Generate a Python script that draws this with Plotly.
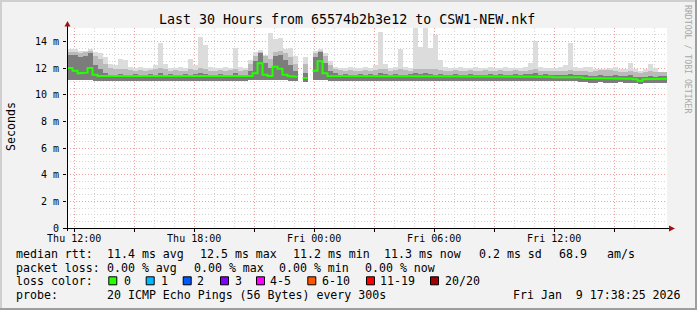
import pandas as pd
import plotly.graph_objects as go

# ---------------- data ----------------
title_text = "Last 30 Hours from 65574b2b3e12 to CSW1-NEW.nkf"
y_title = "Seconds"
range_start = "2026-01-08 11:38:25"
range_end = "2026-01-09 17:38:25"
bin_start = "2026-01-08 11:40:00"
bin_minutes = 15

x_tick_times = ["2026-01-08 12:00", "2026-01-08 15:00", "2026-01-08 18:00", "2026-01-08 21:00",
                "2026-01-09 00:00", "2026-01-09 03:00", "2026-01-09 06:00", "2026-01-09 09:00",
                "2026-01-09 12:00", "2026-01-09 15:00"]
x_tick_text = ["Thu 12:00", "", "Thu 18:00", "", "Fri 00:00", "", "Fri 06:00", "", "Fri 12:00", ""]
y_tick_vals = [0, 2, 4, 6, 8, 10, 12, 14]
y_tick_text = ["0", "2 m", "4 m", "6 m", "8 m", "10 m", "12 m", "14 m"]

# RTT in ms, one value per 15-minute bin (None = no data)
rtt_min = [11.1, 11.1, 11.1, 11.1, 11.1, 11.05, 11.05, 11.05, 11.0, 11.05,
           11.05, 11.0, 11.05, 11.05, 11.0, 11.05, 11.05, 11.0, 11.05, 11.05,
           11.0, 11.05, 11.05, 11.0, 11.05, 11.05, 11.0, 11.05, 11.05, 11.0,
           11.05, 11.05, 11.0, 11.05, 11.05, 11.05, 11.1, 11.1, 11.1, 11.1,
           11.1, 11.1, 11.1, 11.1, 11.05, 11.05, None, 10.95, None, 11.1,
           11.1, 11.1, 11.05, 11.05, 11.0, 11.05, 11.05, 11.0, 11.05, 11.05,
           11.0, 11.05, 11.05, 11.0, 11.05, 11.05, 11.0, 11.05, 11.05, 11.0,
           11.05, 11.05, 11.0, 11.05, 11.05, 11.0, 11.05, 11.05, 11.0, 11.05,
           11.05, 11.0, 11.05, 11.05, 11.0, 11.05, 11.05, 11.0, 11.05, 11.05,
           11.0, 11.05, 11.05, 11.0, 11.05, 11.0, 11.0, 11.0, 11.0, 11.0,
           11.0, 11.0, 10.95, 10.95, 10.9, 10.9, 10.95, 10.9, 10.9, 10.9,
           10.95, 10.9, 10.9, 10.85, 10.8, 10.85, 10.9, 10.85, 10.9, 10.9]

rtt_dark_top = [13.0, 13.0, 12.8, 12.9, 13.1, 12.2, 11.9, 11.6, 11.5, 11.5,
                11.55, 11.5, 11.5, 11.55, 11.5, 11.5, 11.55, 11.5, 11.6, 11.5,
                11.55, 11.5, 11.5, 11.55, 11.5, 11.55, 11.6, 11.55, 11.5, 11.5,
                11.55, 11.5, 11.5, 11.6, 11.5, 11.5, 11.8, 12.5, 13.1, 12.4,
                12.0, 12.9, 13.0, 12.6, 12.2, 11.8, None, 11.6, None, 12.8,
                13.2, 12.4, 11.8, 11.6, 11.5, 11.55, 11.5, 11.5, 11.55, 11.5,
                11.55, 11.5, 11.6, 11.55, 11.5, 11.55, 11.5, 11.5, 11.55, 11.6,
                11.55, 11.6, 11.55, 11.5, 11.55, 11.5, 11.5, 11.55, 11.5, 11.5,
                11.55, 11.5, 11.5, 11.5, 11.55, 11.5, 11.55, 11.5, 11.5, 11.55,
                11.5, 11.55, 11.55, 11.6, 11.5, 11.55, 11.5, 11.5, 11.5, 11.5,
                11.55, 11.5, 11.45, 11.45, 11.4, 11.4, 11.45, 11.4, 11.4, 11.45,
                11.4, 11.4, 11.45, 11.35, 11.3, 11.35, 11.4, 11.35, 11.4, 11.4]

rtt_mid_top = [13.2, 13.2, 13.1, 13.2, 13.3, 12.9, 12.7, 12.3, 12.0, 11.9,
               11.9, 11.9, 11.85, 11.8, 11.85, 11.8, 11.85, 11.9, 12.0, 11.9,
               11.8, 11.85, 11.8, 11.8, 11.9, 11.85, 12.0, 11.9, 11.8, 11.8,
               11.85, 11.8, 11.85, 11.9, 11.8, 11.85, 12.3, 12.9, 13.2, 12.9,
               12.7, 13.2, 13.3, 13.1, 12.8, 12.3, None, 12.3, None, 13.1,
               13.3, 12.9, 12.2, 11.9, 11.85, 11.8, 11.85, 11.8, 11.8, 11.85,
               11.8, 11.85, 11.95, 11.9, 11.8, 11.85, 11.9, 11.85, 11.8, 11.95,
               11.9, 11.95, 11.9, 11.9, 11.85, 11.8, 11.8, 11.85, 11.8, 11.8,
               11.85, 11.8, 11.8, 11.85, 11.8, 11.8, 11.85, 11.8, 11.8, 11.85,
               11.8, 11.8, 11.85, 11.9, 11.8, 11.8, 11.8, 11.75, 11.8, 11.8,
               11.85, 11.8, 11.75, 11.75, 11.7, 11.75, 11.85, 11.85, 11.85, 11.8,
               11.7, 11.7, 11.75, 11.7, 11.65, 11.7, 11.75, 11.7, 11.7, 11.7]

rtt_max = [13.4, 13.4, 13.3, 13.3, 13.4, 13.2, 13.1, 12.8, 12.3, 12.2,
           12.65, 12.6, 12.1, 12.0, 12.1, 12.0, 12.0, 12.2, 13.85, 12.3,
           12.0, 12.0, 12.1, 12.0, 12.7, 12.2, 14.35, 13.7, 12.1, 12.0,
           12.0, 12.1, 12.0, 13.5, 12.1, 12.0, 12.6, 13.2, 13.35, 13.0,
           14.6, 14.2, 14.25, 13.4, 13.5, 12.9, None, 12.85, None, 13.3,
           13.4, 13.1, 12.5, 12.1, 12.0, 12.0, 12.1, 12.0, 12.0, 12.1,
           12.0, 12.2, 14.7, 12.3, 12.0, 12.1, 13.4, 12.1, 12.0, 15.0,
           13.6, 15.0, 13.5, 14.5, 12.6, 12.1, 12.0, 12.0, 12.1, 12.0,
           12.0, 12.1, 12.0, 12.0, 12.1, 12.0, 12.0, 12.1, 12.0, 12.0,
           12.0, 12.1, 12.4, 14.0, 12.1, 12.0, 12.0, 12.0, 12.1, 12.2,
           13.85, 12.1, 12.0, 12.1, 12.1, 11.9, 11.9, 11.9, 12.0, 12.1,
           11.9, 11.9, 12.35, 11.9, 11.8, 11.9, 12.3, 12.0, 11.7, 11.7]

rtt_median = [12.0, 11.8, 11.6, 11.65, 12.0, 11.5, 11.4, 11.4, 11.4, 11.35,
              11.4, 11.35, 11.35, 11.4, 11.35, 11.35, 11.4, 11.35, 11.4, 11.35,
              11.4, 11.35, 11.35, 11.4, 11.35, 11.4, 11.35, 11.4, 11.35, 11.35,
              11.4, 11.35, 11.35, 11.4, 11.35, 11.35, 11.4, 11.6, 12.35, 11.5,
              11.4, 12.1, 11.95, 11.5, 11.4, 11.35, None, 11.25, None, 11.8,
              12.5, 11.6, 11.4, 11.4, 11.35, 11.4, 11.35, 11.35, 11.4, 11.35,
              11.4, 11.35, 11.35, 11.4, 11.35, 11.4, 11.35, 11.35, 11.4, 11.35,
              11.35, 11.4, 11.35, 11.35, 11.4, 11.35, 11.35, 11.4, 11.35, 11.35,
              11.4, 11.35, 11.35, 11.4, 11.35, 11.35, 11.4, 11.35, 11.35, 11.4,
              11.35, 11.35, 11.4, 11.35, 11.35, 11.4, 11.35, 11.3, 11.35, 11.3,
              11.35, 11.3, 11.3, 11.25, 11.2, 11.2, 11.25, 11.2, 11.2, 11.2,
              11.25, 11.2, 11.2, 11.15, 11.05, 11.15, 11.2, 11.15, 11.2, 11.2]

stats_row1 = ["median rtt:", "11.4 ms avg", "12.5 ms max", "11.2 ms min", "11.3 ms now",
              "0.2 ms sd", "68.9", "am/s"]
stats_row2 = ["packet loss:", "0.00 % avg", "0.00 % max", "0.00 % min", "0.00 % now"]
loss_title = "loss color:"
loss_labels = ["0", "1", "2", "3", "4-5", "6-10", "11-19", "20/20"]
loss_colors = ["#26ff00", "#00b8ff", "#0059ff", "#7e00ff", "#ff00ff", "#ff5500", "#ff0000", "#a10000"]
probe_row = ["probe:", "20 ICMP Echo Pings (56 Bytes) every 300s", "Fri Jan\u00a0\u00a09 17:38:25 2026"]
watermark = "RRDTOOL / TOBI OETIKER"

# ---------------- layout geometry (pixels) ----------------
W, H = 697, 310
PL, PR, PT, PB = 67, 667, 28, 228
row1_x = [16, 107.3, 200, 293.3, 384, 479, 559, 606.7]
row2_x = [16, 107.3, 194, 279.3, 365]
row3_box_x = [108.3, 145.7, 182.7, 220, 256, 307.3, 366, 430]
row3_lbl_x = [124, 161.3, 197.3, 235, 270, 321.7, 380, 445]
row4_x = [16, 107.3, 513.3]
row_y = [254.3, 267.8, 280.8, 295.2]


def px(xp):
    return (xp - PL) / (PR - PL)


def py(yp):
    return (PB - yp) / (PB - PT)


MONO = "DejaVu Sans Mono"

times = pd.date_range(bin_start, periods=len(rtt_median), freq=f"{bin_minutes}min")
step = pd.Timedelta(minutes=bin_minutes)
width_ms = bin_minutes * 60 * 1000

fig = go.Figure()


def band(top, color):
    heights = [None if (t is None or b is None) else t - b for t, b in zip(top, rtt_min)]
    fig.add_trace(go.Bar(x=times, y=heights, base=rtt_min, width=width_ms, offset=0,
                         marker=dict(color=color, line=dict(width=0)), hoverinfo="skip"))


band(rtt_max, "#dcdcdc")
band(rtt_mid_top, "#bababa")
band(rtt_dark_top, "#7c7c7c")

lx, ly = [], []
for t, v in zip(times, rtt_median):
    if v is None:
        lx.append(t)
        ly.append(None)
    else:
        lx += [t, t + step]
        ly += [v, v]
fig.add_trace(go.Scatter(x=lx, y=ly, mode="lines", line=dict(color=loss_colors[0], width=2),
                         connectgaps=False, hoverinfo="skip"))

ann = []
shapes = []


def text(xp, yp, s, size=11.6, color="#000000", xanchor="left", angle=0):
    ann.append(dict(x=px(xp), y=py(yp), xref="paper", yref="paper", text=s, showarrow=False,
                    xanchor=xanchor, yanchor="middle", textangle=angle, borderpad=0, borderwidth=0,
                    font=dict(family=MONO, size=size, color=color)))


for s, xp in zip(stats_row1, row1_x):
    text(xp, row_y[0], s)
for s, xp in zip(stats_row2, row2_x):
    text(xp, row_y[1], s)
text(16, row_y[2], loss_title)
for lbl, col, bx, lxp in zip(loss_labels, loss_colors, row3_box_x, row3_lbl_x):
    shapes.append(dict(type="rect", xref="paper", yref="paper",
                       x0=px(bx + 0.5), x1=px(bx + 8.5), y0=py(row_y[2] + 4), y1=py(row_y[2] - 4),
                       fillcolor=col, line=dict(color="#000000", width=1)))
    text(lxp, row_y[2], lbl)
for s, xp in zip(probe_row, row4_x):
    text(xp, row_y[3], s)

text(11, 127, y_title, angle=-90, xanchor="center")
text(688, 59, watermark, size=8.2, color="#a8a8a8", xanchor="center", angle=90)

# axes lines and arrows
shapes.append(dict(type="line", xref="paper", yref="paper", x0=px(67.5), x1=px(67.5),
                   y0=py(231), y1=py(25), line=dict(color="#000000", width=1)))
shapes.append(dict(type="line", xref="paper", yref="paper", x0=px(63), x1=px(670),
                   y0=py(228.5), y1=py(228.5), line=dict(color="#000000", width=1)))
shapes.append(dict(type="path", xref="paper", yref="paper",
                   path=f"M {px(64.5)} {py(26.5)} L {px(70.5)} {py(26.5)} L {px(67.5)} {py(21)} Z",
                   fillcolor="#a01010", line=dict(width=0)))
shapes.append(dict(type="path", xref="paper", yref="paper",
                   path=f"M {px(669)} {py(225.5)} L {px(669)} {py(231.5)} L {px(675)} {py(228.5)} Z",
                   fillcolor="#a01010", line=dict(width=0)))
# frame
shapes.append(dict(type="line", xref="paper", yref="paper", x0=px(0), x1=px(W), y0=py(1), y1=py(1),
                   line=dict(color="#cfcfcf", width=2)))
shapes.append(dict(type="line", xref="paper", yref="paper", x0=px(1), x1=px(1), y0=py(0), y1=py(H),
                   line=dict(color="#cfcfcf", width=2)))
shapes.append(dict(type="line", xref="paper", yref="paper", x0=px(0), x1=px(W), y0=py(H - 1), y1=py(H - 1),
                   line=dict(color="#9e9e9e", width=2)))
shapes.append(dict(type="line", xref="paper", yref="paper", x0=px(W - 1), x1=px(W - 1), y0=py(0), y1=py(H),
                   line=dict(color="#9e9e9e", width=2)))

GRID_DASH = "1px,2px"
fig.update_layout(
    width=W, height=H, autosize=False,
    margin=dict(l=PL, r=W - PR, t=PT, b=H - PB, pad=0),
    paper_bgcolor="#f2f2f2", plot_bgcolor="#ffffff",
    barmode="overlay", bargap=0, showlegend=False,
    title=dict(text=title_text, x=0.498, xref="container", xanchor="center",
               y=1 - 19 / H, yref="container", yanchor="middle",
               font=dict(family=MONO, size=13.3, color="#000000")),
    xaxis=dict(type="date", range=[range_start, range_end], tickmode="array",
               tickvals=x_tick_times, ticktext=x_tick_text,
               showgrid=True, gridcolor="#eca0a0", griddash=GRID_DASH, gridwidth=1,
               ticks="outside", ticklen=3, tickcolor="#000000", ticklabelstandoff=-2,
               tickfont=dict(family=MONO, size=10, color="#000000"),
               minor=dict(dtick=3600000, tick0="2026-01-08 12:00", showgrid=True,
                          gridcolor="#d4d4d4", griddash=GRID_DASH, gridwidth=1),
               showline=False, zeroline=False, fixedrange=True),
    yaxis=dict(range=[0, 15], tickmode="array", tickvals=y_tick_vals, ticktext=y_tick_text,
               showgrid=True, gridcolor="#eca0a0", griddash=GRID_DASH, gridwidth=1,
               ticks="outside", ticklen=3, tickcolor="#000000", ticklabelstandoff=2,
               tickfont=dict(family=MONO, size=10, color="#000000"),
               minor=dict(dtick=0.5, tick0=0, showgrid=True, gridcolor="#d4d4d4",
                          griddash=GRID_DASH, gridwidth=1),
               showline=False, zeroline=False, fixedrange=True),
    annotations=ann, shapes=shapes,
)

fig.write_html("out.html")
